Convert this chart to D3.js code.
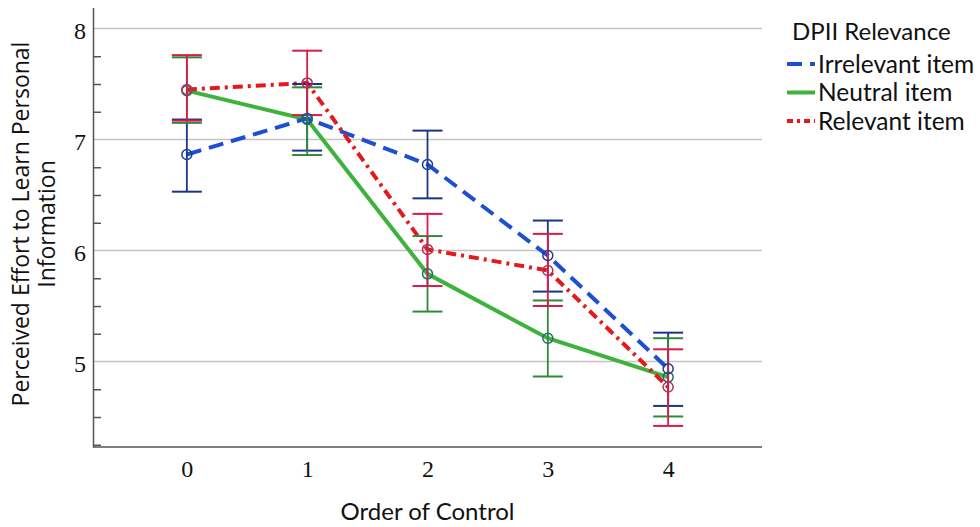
<!DOCTYPE html>
<html>
<head>
<meta charset="utf-8">
<script src="https://cdn.jsdelivr.net/npm/d3@7"></script>
<style>
  html, body { margin: 0; padding: 0; background: #fff; }
  svg { display: block; }
</style>
</head>
<body>
<svg id="chart" width="980" height="527"></svg>
<script>
// ---------- data ----------
const categories = [0, 1, 2, 3, 4];
const seriesNames = ["Irrelevant item", "Neutral item", "Relevant item"];

const irrelevantMean = [6.865, 7.19, 6.775, 5.955, 4.935];
const irrelevantLow  = [6.53, 6.90, 6.47, 5.63, 4.60];
const irrelevantHigh = [7.18, 7.50, 7.08, 6.27, 5.26];

const neutralMean = [7.44, 7.18, 5.79, 5.21, 4.86];
const neutralLow  = [7.15, 6.86, 5.45, 4.865, 4.505];
const neutralHigh = [7.74, 7.47, 6.13, 5.55, 5.21];

const relevantMean = [7.45, 7.51, 6.01, 5.82, 4.77];
const relevantLow  = [7.17, 7.22, 5.68, 5.50, 4.42];
const relevantHigh = [7.76, 7.80, 6.33, 6.15, 5.11];

const yMajorTicks = [5, 6, 7, 8];
const yMinorTicks = [4.25, 4.5, 4.75, 5.25, 5.5, 5.75, 6.25, 6.5, 6.75, 7.25, 7.5, 7.75];

const legendTitle = "DPII Relevance";
const xTitle = "Order of Control";
const yTitleLines = ["Perceived Effort to Learn Personal", "Information"];

(function () {
// ---------- styles ----------
const styles = {
  "Irrelevant item": { line: "#1d4fd0", bar: "#1a3585", circle: "#1c3d99", dash: "15,8" },
  "Neutral item":    { line: "#3db33d", bar: "#2f8a3a", circle: "#1f6f6a", dash: null },
  "Relevant item":   { line: "#e31a1c", bar: "#d81b4b", circle: "#b8305a", dash: "10,5,3,5" }
};

const series = [
  { name: "Irrelevant item", mean: irrelevantMean, low: irrelevantLow, high: irrelevantHigh },
  { name: "Neutral item", mean: neutralMean, low: neutralLow, high: neutralHigh },
  { name: "Relevant item", mean: relevantMean, low: relevantLow, high: relevantHigh }
];

const svg = d3.select("#chart");
const pLeft = 93, pRight = 762, pTop = 7.4, pBottom = 447;

const x = d3.scalePoint().domain(categories).range([pLeft, pRight]).padding(0.78);
const y = d3.scaleLinear().domain([4.23, 8.19]).range([pBottom, pTop]);

const tickFont = "'Liberation Serif', serif";
const textFont = "Lato, 'Open Sans', sans-serif";

// gridlines
svg.append("g").selectAll("line").data(yMajorTicks).join("line")
  .attr("x1", pLeft).attr("x2", pRight)
  .attr("y1", d => y(d)).attr("y2", d => y(d))
  .attr("stroke", "#c4c4c4").attr("stroke-width", 1.5);

// y axis with minor ticks inward
const yAxisMinor = d3.axisRight(y).tickValues(yMinorTicks).tickSize(8).tickFormat("");
const gMinor = svg.append("g").attr("transform", `translate(${pLeft},0)`).call(yAxisMinor);
gMinor.select(".domain").remove();
gMinor.selectAll(".tick line").attr("stroke", "#555").attr("stroke-width", 1.5);

const yAxis = d3.axisLeft(y).tickValues(yMajorTicks).tickSize(0).tickPadding(7).tickFormat(d3.format("d"));
const gY = svg.append("g").attr("transform", `translate(${pLeft},0)`).call(yAxis);
gY.select(".domain").attr("stroke", "#555").attr("stroke-width", 1.5);
gY.selectAll(".tick text").attr("font-family", tickFont).attr("font-size", 24)
  .attr("fill", "#111").attr("dy", "0.42em");

// x axis
const xAxis = d3.axisBottom(x).tickSize(0).tickPadding(17);
const gX = svg.append("g").attr("transform", `translate(0,${pBottom})`).call(xAxis);
gX.select(".domain").attr("stroke", "#555").attr("stroke-width", 1.5)
  .attr("d", `M${pLeft},0H${pRight}`);
gX.selectAll(".tick text").attr("font-family", tickFont).attr("font-size", 24).attr("fill", "#111")
  .attr("dy", "0.55em");

// lines (green first, then blue, then red)
const lineGen = d3.line().x((d, i) => x(categories[i])).y(d => y(d));
const drawOrder = [series[1], series[0], series[2]];
svg.append("g").selectAll("path").data(drawOrder).join("path")
  .attr("d", s => lineGen(s.mean))
  .attr("fill", "none")
  .attr("stroke", s => styles[s.name].line)
  .attr("stroke-width", 4)
  .attr("stroke-dasharray", s => styles[s.name].dash);

// error bars
const capHalf = 15;
series.forEach(s => {
  const g = svg.append("g");
  const st = styles[s.name];
  categories.forEach((c, i) => {
    const cx = x(c);
    g.append("line").attr("x1", cx).attr("x2", cx)
      .attr("y1", y(s.low[i])).attr("y2", y(s.high[i]))
      .attr("stroke", st.bar).attr("stroke-width", 1.8);
    [s.low[i], s.high[i]].forEach(v => {
      g.append("line").attr("x1", cx - capHalf).attr("x2", cx + capHalf)
        .attr("y1", y(v)).attr("y2", y(v))
        .attr("stroke", st.bar).attr("stroke-width", 2);
    });
  });
});

// mean circles
series.forEach(s => {
  svg.append("g").selectAll("circle").data(s.mean).join("circle")
    .attr("cx", (d, i) => x(categories[i])).attr("cy", d => y(d))
    .attr("r", 5).attr("fill", "none")
    .attr("stroke", styles[s.name].circle).attr("stroke-width", 1.5);
});

// axis titles
svg.append("text").attr("x", (pLeft + pRight) / 2).attr("y", 520)
  .attr("text-anchor", "middle").attr("font-family", textFont).attr("font-size", 24)
  .attr("fill", "#111").text(xTitle);

const yt = svg.append("text").attr("transform", "translate(0,224) rotate(-90)")
  .attr("text-anchor", "middle").attr("font-family", "'Open Sans', sans-serif").attr("font-size", 23)
  .attr("fill", "#111");
yt.append("tspan").attr("x", 0).attr("y", 29).text(yTitleLines[0]);
yt.append("tspan").attr("x", 0).attr("y", 55).text(yTitleLines[1]);

// legend
const lg = svg.append("g");
lg.append("text").attr("x", 792).attr("y", 40).attr("font-family", textFont).attr("font-size", 24)
  .attr("fill", "#111").text(legendTitle);
series.forEach((s, i) => {
  const cy = 64 + i * 28.5;
  const st = styles[s.name];
  let dash = null;
  if (s.name === "Irrelevant item") dash = "15,8";
  else if (s.name === "Relevant item") dash = "6,4,3,4";
  lg.append("line").attr("x1", 787).attr("x2", 815).attr("y1", cy).attr("y2", cy)
    .attr("stroke", st.line).attr("stroke-width", 4).attr("stroke-dasharray", dash);
  lg.append("text").attr("x", 818).attr("y", cy + 8.5).attr("font-family", textFont).attr("font-size", 24.5)
    .attr("fill", "#111").text(s.name);
});
})();
</script>
</body>
</html>
